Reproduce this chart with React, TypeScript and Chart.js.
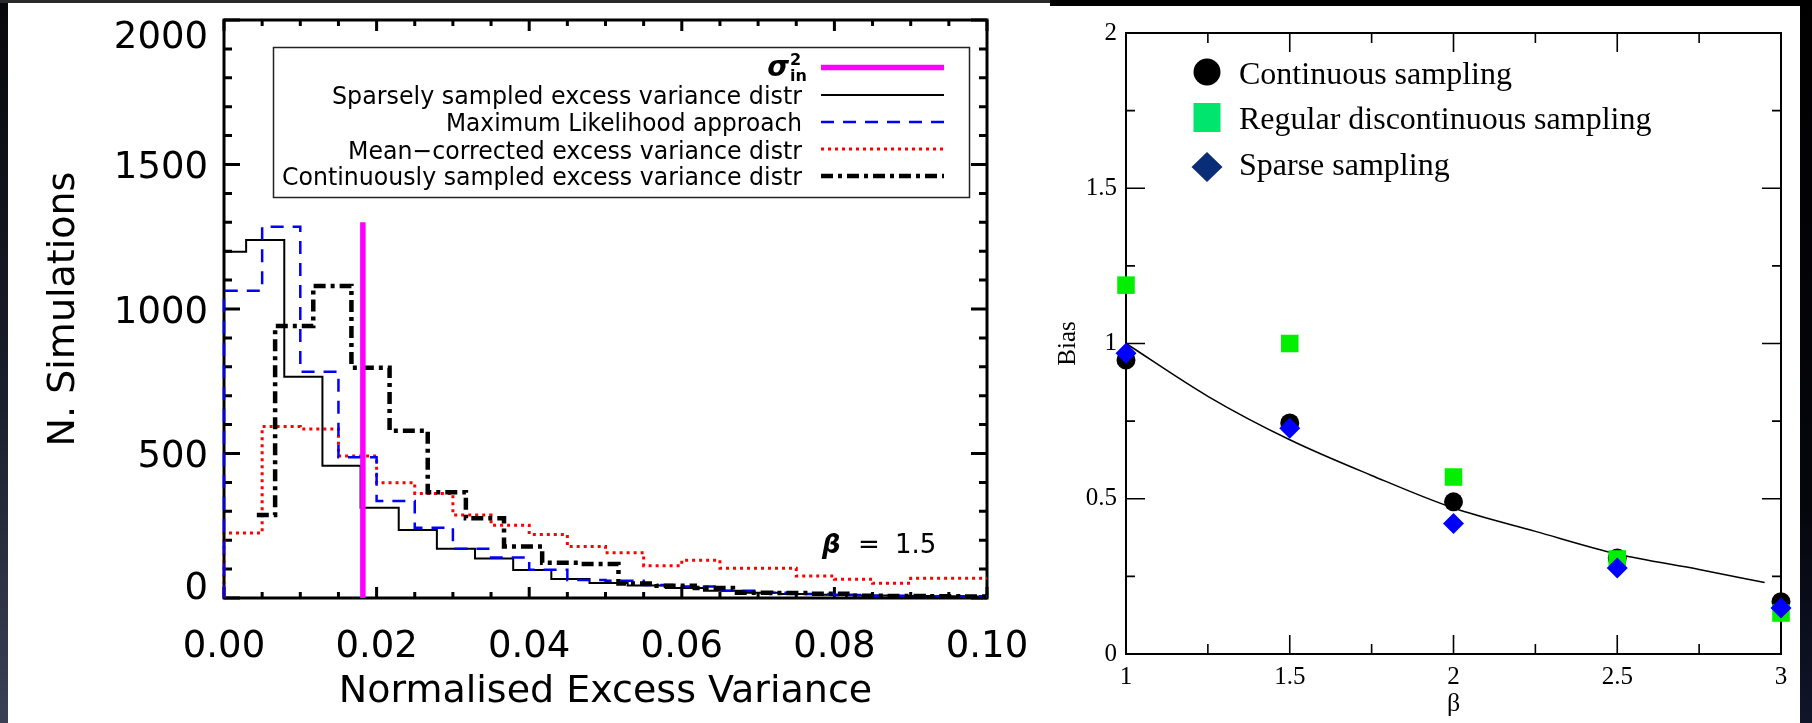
import React, { useEffect, useRef } from 'react';
import { Chart, registerables } from 'chart.js';

Chart.register(...registerables);

const W = 1812;
const H = 723;

// ---------------- Left panel: histograms ----------------
const HIST_END = 0.1;
const SPARSE_EDGES = [0, 0.0029, 0.0079, 0.0129, 0.0179, 0.0229, 0.0279, 0.0329, 0.0379, 0.0429, 0.0479, 0.0529, 0.0579, 0.0629, 0.0679, 0.0729, 0.0779, 0.0829, 0.0879, 0.0929, 0.0979];
const SPARSE_COUNTS = [1198, 1239, 766, 458, 312, 235, 170, 137, 97, 66, 52, 43, 35, 25, 18, 14, 11, 9, 7, 6, 5];
const ML_EDGES = [0, 0.005, 0.01, 0.015, 0.02, 0.025, 0.03, 0.035, 0.04, 0.045, 0.05, 0.055, 0.06, 0.065, 0.07, 0.075, 0.08, 0.085, 0.09, 0.095];
const ML_COUNTS = [1063, 1285, 783, 487, 336, 243, 170, 140, 98, 62, 60, 45, 40, 25, 18, 14, 10, 8, 6, 6];
const MEAN_EDGES = [0, 0.005, 0.01, 0.015, 0.02, 0.025, 0.03, 0.035, 0.04, 0.045, 0.05, 0.055, 0.06, 0.065, 0.07, 0.075, 0.08, 0.085, 0.09, 0.095];
const MEAN_COUNTS = [225, 593, 585, 491, 399, 362, 287, 252, 220, 178, 157, 112, 131, 103, 103, 76, 65, 51, 68, 68];
const CONT_EDGES = [0.0043, 0.0067, 0.0117, 0.0167, 0.0217, 0.0267, 0.0317, 0.0367, 0.0417, 0.0467, 0.0517, 0.0567, 0.0617, 0.0667, 0.0717, 0.0767, 0.0817, 0.0867, 0.0917, 0.0967];
const CONT_COUNTS = [287, 941, 1080, 797, 579, 366, 276, 178, 122, 118, 50, 42, 35, 18, 17, 15, 8, 7, 6, 5];
const SIGMA_IN_X = [0.0182, 0.0182];
const SIGMA_IN_Y = [0, 1300];

const LEFT_LEGEND = [
  'Sparsely sampled excess variance distr',
  'Maximum Likelihood approach',
  'Mean\u2212corrected excess variance distr',
  'Continuously sampled excess variance distr',
];
const LX_MAJOR = [0, 0.02, 0.04, 0.06, 0.08, 0.1];
const LX_MINOR_STEP = 0.005;
const LY_MAJOR = [0, 500, 1000, 1500, 2000];
const LY_MINOR_STEP = 100;

// ---------------- Right panel: bias vs beta ----------------
const BETA = [1, 1.5, 2, 2.5, 3];
const BIAS_CONTINUOUS = [0.947, 0.744, 0.49, 0.309, 0.168];
const BIAS_REGULAR = [1.188, 1.0, 0.57, 0.306, 0.132];
const BIAS_SPARSE = [0.969, 0.727, 0.42, 0.277, 0.148];
const CURVE_BETA = [1, 1.25, 1.5, 1.75, 2, 2.25, 2.5, 2.75, 2.95];
const CURVE_BIAS = [1.0, 0.83, 0.69, 0.575, 0.47, 0.395, 0.322, 0.272, 0.23];
const RIGHT_LEGEND = ['Continuous sampling', 'Regular discontinuous sampling', 'Sparse sampling'];
const RX_MAJOR = [1, 1.5, 2, 2.5, 3];
const RX_MINOR = [1.25, 1.75, 2.25, 2.75];
const RY_MAJOR = [0, 0.5, 1, 1.5, 2];
const RY_MINOR = [0.25, 0.75, 1.25, 1.75];

function range(a: number, b: number, step: number): number[] {
  const out: number[] = [];
  const n = Math.round((b - a) / step);
  for (let i = 0; i <= n; i++) out.push(+(a + i * step).toFixed(6));
  return out;
}

function stepPoints(edges: number[], counts: number[], fromZero: boolean) {
  const pts: { x: number; y: number }[] = [];
  if (fromZero) pts.push({ x: edges[0], y: 0 });
  edges.forEach((e, i) => pts.push({ x: e, y: counts[i] }));
  pts.push({ x: HIST_END, y: counts[counts.length - 1] });
  return pts;
}

type FrameOpts = {
  frameWidth: number;
  tickWidth: number;
  xMajor: number[];
  xMinor: number[];
  yMajor: number[];
  yMinor: number[];
  xMajorLen: number;
  xMinorLen: number;
  yMajorLen: number;
  yMinorLen: number;
};

function makeFramePlugin(id: string, o: FrameOpts) {
  return {
    id,
    beforeDatasetsDraw(chart: any) {
      const { ctx, chartArea: a, scales } = chart;
      const xs = scales.x;
      const ys = scales.y;
      ctx.save();
      ctx.strokeStyle = '#000';
      ctx.lineCap = 'butt';
      ctx.lineWidth = o.tickWidth;
      ctx.beginPath();
      const xt = (vals: number[], len: number) => {
        for (const v of vals) {
          const px = xs.getPixelForValue(v);
          ctx.moveTo(px, a.bottom);
          ctx.lineTo(px, a.bottom - len);
          ctx.moveTo(px, a.top);
          ctx.lineTo(px, a.top + len);
        }
      };
      const yt = (vals: number[], len: number) => {
        for (const v of vals) {
          const py = ys.getPixelForValue(v);
          ctx.moveTo(a.left, py);
          ctx.lineTo(a.left + len, py);
          ctx.moveTo(a.right, py);
          ctx.lineTo(a.right - len, py);
        }
      };
      xt(o.xMajor, o.xMajorLen);
      xt(o.xMinor, o.xMinorLen);
      yt(o.yMajor, o.yMajorLen);
      yt(o.yMinor, o.yMinorLen);
      ctx.stroke();
      ctx.lineWidth = o.frameWidth;
      ctx.lineJoin = 'miter';
      ctx.strokeRect(a.left, a.top, a.right - a.left, a.bottom - a.top);
      ctx.restore();
    },
  };
}

const leftYLabels = {
  id: 'leftYLabels',
  afterDraw(chart: any) {
    const { ctx, chartArea: a } = chart;
    const ys = chart.scales.y;
    ctx.save();
    ctx.font = '37px "DejaVu Sans"';
    ctx.fillStyle = '#000';
    ctx.textAlign = 'right';
    ctx.textBaseline = 'alphabetic';
    for (const t of ys.ticks) {
      let cy = ys.getPixelForValue(t.value);
      cy = Math.min(Math.max(cy, a.top + 14), a.bottom - 13);
      ctx.fillText(String(t.value), a.left - 16, cy + 13.5);
    }
    ctx.restore();
  },
};

const leftLegend = {
  id: 'leftLegend',
  afterDraw(chart: any) {
    const ctx = chart.ctx;
    ctx.save();
    ctx.fillStyle = '#fff';
    ctx.fillRect(273.5, 47.5, 696, 150);
    ctx.strokeStyle = '#222';
    ctx.lineWidth = 1.5;
    ctx.strokeRect(273.5, 47.5, 696, 150);

    // sigma^2_in label
    ctx.fillStyle = '#000';
    ctx.textBaseline = 'alphabetic';
    ctx.textAlign = 'right';
    ctx.font = 'italic bold 28px "DejaVu Sans"';
    ctx.fillText('\u03c3', 789, 76);
    ctx.textAlign = 'left';
    ctx.font = 'bold 16px "DejaVu Sans"';
    ctx.fillText('2', 790, 65);
    ctx.fillText('in', 790, 81);

    const rightEdge = 802;
    const baselines = [104, 131, 159, 185];
    const widths = [470, 356, 454, 520];
    ctx.textAlign = 'right';
    ctx.font = '25px "DejaVu Sans"';
    LEFT_LEGEND.forEach((t, i) => {
      ctx.fillText(t, rightEdge, baselines[i], widths[i]);
    });

    const x0 = 821;
    const x1 = 944;
    const samples = [
      { y: 67.5, color: '#ff00ff', w: 5.5, dash: [] as number[] },
      { y: 95, color: '#000', w: 2, dash: [] as number[] },
      { y: 122, color: '#0000ff', w: 2.5, dash: [13, 9] },
      { y: 149, color: '#ff0000', w: 3, dash: [3, 4] },
      { y: 176, color: '#000', w: 4.5, dash: [12, 5, 4, 5] },
    ];
    for (const s of samples) {
      ctx.beginPath();
      ctx.setLineDash(s.dash);
      ctx.strokeStyle = s.color;
      ctx.lineWidth = s.w;
      ctx.moveTo(x0, s.y);
      ctx.lineTo(x1, s.y);
      ctx.stroke();
    }
    ctx.setLineDash([]);

    // beta annotation
    ctx.textAlign = 'left';
    ctx.font = 'italic bold 26px "DejaVu Sans"';
    ctx.fillText('\u03b2', 822, 553);
    ctx.font = '26px "DejaVu Sans"';
    ctx.fillText('=', 858, 553);
    ctx.fillText('1.5', 895, 553);
    ctx.restore();
  },
};

const rightLegend = {
  id: 'rightLegend',
  afterDraw(chart: any) {
    const ctx = chart.ctx;
    ctx.save();
    const cx = 1207;
    ctx.fillStyle = '#000';
    ctx.beginPath();
    ctx.arc(cx, 72, 13.5, 0, Math.PI * 2);
    ctx.fill();
    ctx.fillStyle = '#00e56e';
    ctx.fillRect(cx - 13.5, 103, 27, 29);
    ctx.fillStyle = '#0a2d78';
    ctx.beginPath();
    ctx.moveTo(cx - 15.5, 167);
    ctx.lineTo(cx, 152);
    ctx.lineTo(cx + 15.5, 167);
    ctx.lineTo(cx, 182);
    ctx.closePath();
    ctx.fill();

    ctx.fillStyle = '#000';
    ctx.font = '32px "Liberation Serif"';
    ctx.textAlign = 'left';
    ctx.textBaseline = 'alphabetic';
    const bl = [84, 129, 175];
    RIGHT_LEGEND.forEach((t, i) => ctx.fillText(t, 1239, bl[i]));
    ctx.restore();
  },
};

function leftConfig(): any {
  const xMinor = range(0, 0.1, LX_MINOR_STEP).filter((v) => !LX_MAJOR.some((m) => Math.abs(m - v) < 1e-9));
  const yMinor = range(0, 2000, LY_MINOR_STEP).filter((v) => !LY_MAJOR.includes(v));
  const frame = makeFramePlugin('leftFrame', {
    frameWidth: 3,
    tickWidth: 3,
    xMajor: LX_MAJOR,
    xMinor,
    yMajor: LY_MAJOR,
    yMinor,
    xMajorLen: 11,
    xMinorLen: 6,
    yMajorLen: 16,
    yMinorLen: 8,
  });
  const common = { showLine: true, pointRadius: 0, pointHoverRadius: 0, clip: false, fill: false, tension: 0 };
  return {
    type: 'scatter',
    data: {
      datasets: [
        {
          ...common,
          label: 'sigma2_in',
          data: SIGMA_IN_X.map((x, i) => ({ x, y: SIGMA_IN_Y[i] })),
          borderColor: '#ff00ff',
          borderWidth: 5.5,
          order: 0,
        },
        {
          ...common,
          label: LEFT_LEGEND[0],
          data: stepPoints(SPARSE_EDGES, SPARSE_COUNTS, true),
          borderColor: '#000',
          borderWidth: 2,
          stepped: 'before',
          order: 3,
        },
        {
          ...common,
          label: LEFT_LEGEND[1],
          data: stepPoints(ML_EDGES, ML_COUNTS, true),
          borderColor: '#0000ff',
          borderWidth: 2.5,
          borderDash: [13, 9],
          stepped: 'before',
          order: 2,
        },
        {
          ...common,
          label: LEFT_LEGEND[2],
          data: stepPoints(MEAN_EDGES, MEAN_COUNTS, true),
          borderColor: '#ff0000',
          borderWidth: 3,
          borderDash: [3, 4],
          stepped: 'before',
          order: 4,
        },
        {
          ...common,
          label: LEFT_LEGEND[3],
          data: stepPoints(CONT_EDGES, CONT_COUNTS, false),
          borderColor: '#000',
          borderWidth: 4.5,
          borderDash: [12, 5, 4, 5],
          stepped: 'before',
          order: 1,
        },
      ],
    },
    options: {
      responsive: false,
      animation: false,
      devicePixelRatio: 1,
      events: [],
      layout: { padding: { left: 8, top: 20, right: W - 987, bottom: 0 } },
      plugins: { legend: { display: false }, tooltip: { enabled: false } },
      scales: {
        x: {
          type: 'linear',
          min: 0,
          max: 0.1,
          afterFit: (s: any) => { s.height = H - 598; },
          grid: { display: false, drawTicks: false },
          border: { display: false },
          ticks: {
            stepSize: 0.02,
            padding: 27,
            color: '#000',
            font: { family: 'DejaVu Sans', size: 37 },
            maxRotation: 0,
            callback: (v: any) => Number(v).toFixed(2),
          },
          title: {
            display: true,
            text: 'Normalised Excess Variance',
            color: '#000',
            font: { family: 'DejaVu Sans', size: 38 },
            padding: { top: 0, bottom: 8 },
          },
        },
        y: {
          type: 'linear',
          min: 0,
          max: 2000,
          afterFit: (s: any) => { s.width = 224 - 8; },
          grid: { display: false, drawTicks: false },
          border: { display: false },
          ticks: { stepSize: 500, display: false },
          title: {
            display: true,
            text: 'N. Simulations',
            color: '#000',
            font: { family: 'DejaVu Sans', size: 38 },
            padding: { top: 33, bottom: 0 },
          },
        },
      },
    },
    plugins: [frame, leftYLabels, leftLegend],
  };
}

function rightConfig(): any {
  const frame = makeFramePlugin('rightFrame', {
    frameWidth: 2,
    tickWidth: 1.6,
    xMajor: RX_MAJOR,
    xMinor: RX_MINOR,
    yMajor: RY_MAJOR,
    yMinor: RY_MINOR,
    xMajorLen: 19,
    xMinorLen: 10,
    yMajorLen: 19,
    yMinorLen: 9,
  });
  const pts = (ys: number[]) => BETA.map((x, i) => ({ x, y: ys[i] }));
  const plain = (v: any) => String(+Number(v).toFixed(2));
  return {
    type: 'scatter',
    data: {
      datasets: [
        {
          label: 'curve',
          data: CURVE_BETA.map((x, i) => ({ x, y: CURVE_BIAS[i] })),
          showLine: true,
          borderColor: '#000',
          borderWidth: 1.5,
          pointRadius: 0,
          cubicInterpolationMode: 'monotone',
          fill: false,
          clip: false,
          order: 4,
        },
        {
          label: RIGHT_LEGEND[0],
          data: pts(BIAS_CONTINUOUS),
          pointStyle: 'circle',
          pointRadius: 9.5,
          pointBackgroundColor: '#000',
          pointBorderWidth: 0,
          clip: false,
          order: 3,
        },
        {
          label: RIGHT_LEGEND[1],
          data: pts(BIAS_REGULAR),
          pointStyle: 'rect',
          pointRadius: 12.4,
          pointBackgroundColor: '#00f000',
          pointBorderWidth: 0,
          clip: false,
          order: 2,
        },
        {
          label: RIGHT_LEGEND[2],
          data: pts(BIAS_SPARSE),
          pointStyle: 'rectRot',
          pointRadius: 10.5,
          pointBackgroundColor: '#0000ff',
          pointBorderWidth: 0,
          clip: false,
          order: 1,
        },
      ],
    },
    options: {
      responsive: false,
      animation: false,
      devicePixelRatio: 1,
      events: [],
      layout: { padding: { left: 1010, top: 33, right: W - 1781, bottom: 0 } },
      plugins: { legend: { display: false }, tooltip: { enabled: false } },
      scales: {
        x: {
          type: 'linear',
          min: 1,
          max: 3,
          afterFit: (s: any) => { s.height = H - 654; },
          grid: { display: false, drawTicks: false },
          border: { display: false },
          ticks: {
            stepSize: 0.5,
            padding: 8,
            color: '#000',
            font: { family: 'Liberation Serif', size: 25 },
            maxRotation: 0,
            callback: plain,
          },
          title: {
            display: true,
            text: '\u03b2',
            color: '#000',
            font: { family: 'Liberation Serif', size: 26 },
            padding: { top: 0, bottom: 3 },
          },
        },
        y: {
          type: 'linear',
          min: 0,
          max: 2,
          afterFit: (s: any) => { s.width = 1126 - 1010; },
          grid: { display: false, drawTicks: false },
          border: { display: false },
          ticks: {
            stepSize: 0.5,
            padding: 9,
            color: '#000',
            font: { family: 'Liberation Serif', size: 25 },
            callback: plain,
          },
          title: {
            display: true,
            text: 'Bias',
            color: '#000',
            font: { family: 'Liberation Serif', size: 25 },
            padding: { top: 43, bottom: 0 },
          },
        },
      },
    },
    plugins: [frame, rightLegend],
  };
}

export default function App() {
  const leftRef = useRef<HTMLCanvasElement>(null);
  const rightRef = useRef<HTMLCanvasElement>(null);
  useEffect(() => {
    document.body.style.margin = '0';
    const c1 = new Chart(leftRef.current as HTMLCanvasElement, leftConfig());
    const c2 = new Chart(rightRef.current as HTMLCanvasElement, rightConfig());
    return () => {
      c1.destroy();
      c2.destroy();
    };
  }, []);
  const abs = { position: 'absolute' as const, left: 0, top: 0 };
  return (
    <div style={{ position: 'relative', width: W, height: H, background: '#fff', overflow: 'hidden' }}>
      <div style={{ ...abs, width: 8, height: H, background: 'linear-gradient(#08080c, #1b1f2c 55%, #3a4156)' }} />
      <div style={{ ...abs, width: 1050, height: 3, background: '#2a2a2a' }} />
      <div style={{ ...abs, left: 1050, width: W - 1050, height: 6, background: '#000' }} />
      <div style={{ ...abs, left: 1800, width: W - 1800, height: H, background: 'linear-gradient(#000, #05060c 70%, #10152a)' }} />
      <canvas ref={leftRef} width={W} height={H} style={abs} />
      <canvas ref={rightRef} width={W} height={H} style={abs} />
    </div>
  );
}
